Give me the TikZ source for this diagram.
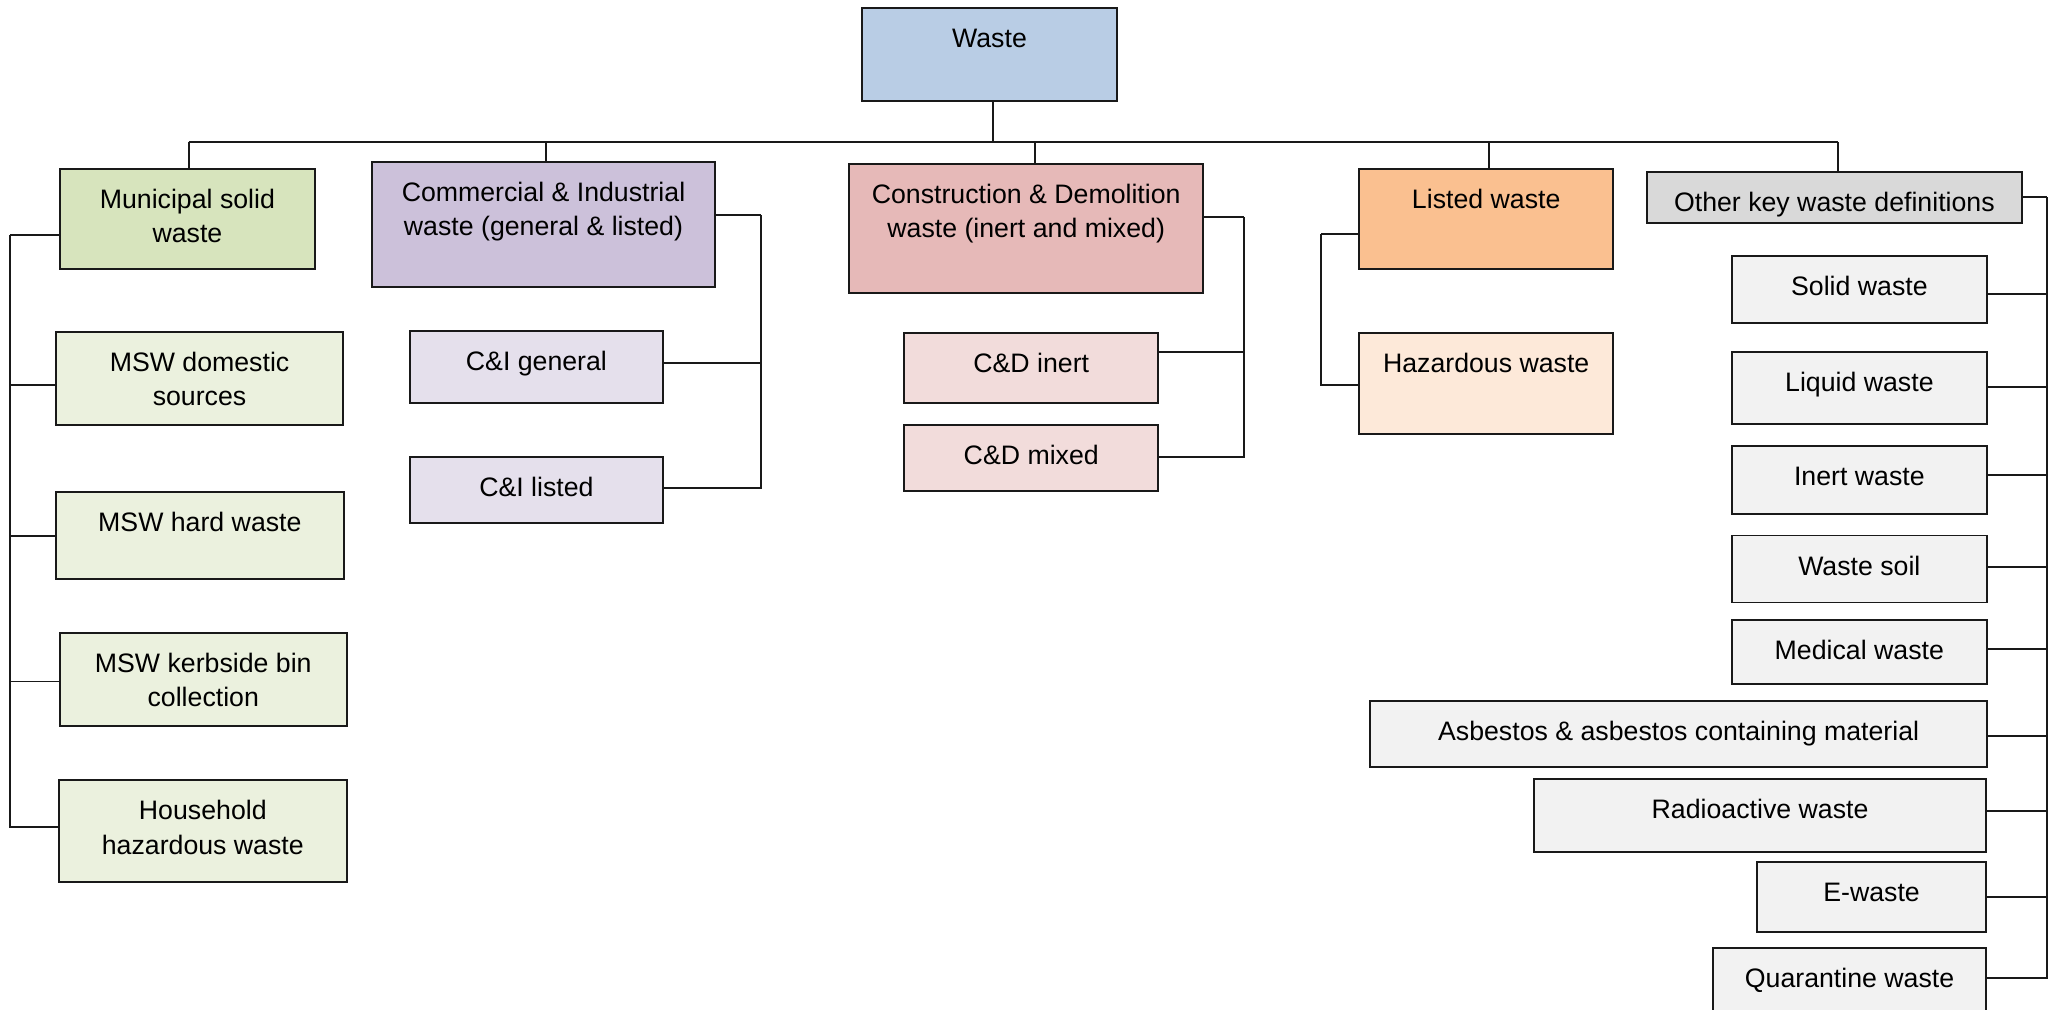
\documentclass[tikz,border=0pt]{standalone}
\usepackage{fontspec}
\setmainfont{Liberation Sans}
\usetikzlibrary{fit}

\definecolor{cWaste}{HTML}{B9CDE5}
\definecolor{cMsw}{HTML}{D7E4BD}
\definecolor{cCI}{HTML}{CCC1DA}
\definecolor{cCD}{HTML}{E6B9B8}
\definecolor{cListed}{HTML}{FAC090}
\definecolor{cOther}{HTML}{D9D9D9}
\definecolor{cMswL}{HTML}{EBF1DE}
\definecolor{cCIL}{HTML}{E5E0EC}
\definecolor{cCDL}{HTML}{F2DCDB}
\definecolor{cHaz}{HTML}{FDE9D9}
\definecolor{cOtherL}{HTML}{F2F2F2}

% box with its label set near the top edge; the optional argument
% moves the label down a little (used for two-line labels)
\newcommand\tbox[6][0pt]{%
  \node[box=#3, fit={(#4) (#5)}] (#2) {};
  \node[lbl] (#2-t) at ([yshift=-4.3pt-#1]#2.north) {#6};
}

\begin{document}
\begin{tikzpicture}[x=0.013106cm, y=-0.013106cm,
  box/.style={draw=black!90, line width=0.55pt, inner sep=0pt, outer sep=0pt, fill=#1},
  lbl/.style={anchor=north, inner sep=0pt, align=center,
              font=\fontsize{7.6}{9.7}\selectfont, execute at begin node=\strut},
  conn/.style={draw=black!90, line width=0.55pt}]

\path[use as bounding box] (0,0) rectangle (1568,770.6);

% top level
\tbox{waste}{cWaste}{658,6}{852,77}{Waste}
\tbox[1.3pt]{msw}{cMsw}{46,129}{240,205.5}{Municipal solid\\waste}
\tbox[1.3pt]{ci}{cCI}{284,123.4}{545.4,218.7}{Commercial \& Industrial\\waste (general \& listed)}
\tbox[1.3pt]{cd}{cCD}{648,125}{918,223.4}{Construction \& Demolition\\waste (inert and mixed)}
\tbox{listed}{cListed}{1037,129}{1231,205.5}{Listed waste}
\tbox{other}{cOther}{1256.8,131}{1542.5,170}{Other key waste definitions}

% municipal solid waste
\tbox[1.3pt]{dom}{cMswL}{42.5,253}{262,324}{MSW domestic\\sources}
\tbox{hard}{cMswL}{42.4,375.5}{262.6,441.5}{MSW hard waste}
\tbox[1.3pt]{kerb}{cMswL}{45.5,483}{264.7,553.6}{MSW kerbside bin\\collection}
\tbox[1.3pt]{hhw}{cMswL}{44.8,595.3}{264.7,672.7}{Household\\hazardous waste}

% commercial & industrial
\tbox{cig}{cCIL}{312.6,252.3}{506,307.2}{C\&I general}
\tbox{cil}{cCIL}{312.6,348.7}{506,398.8}{C\&I listed}

% construction & demolition
\tbox{cdi}{cCDL}{690,254}{883.7,307.4}{C\&D inert}
\tbox{cdm}{cCDL}{690,324.3}{883.7,374.5}{C\&D mixed}

% listed
\tbox{haz}{cHaz}{1037,254.3}{1231,331}{Hazardous waste}

% other definitions
\tbox{solid}{cOtherL}{1321.5,195.3}{1516,246.6}{Solid waste}
\tbox{liquid}{cOtherL}{1321.5,268.4}{1516,323.5}{Liquid waste}
\tbox{inert}{cOtherL}{1321.4,340.5}{1516,392}{Inert waste}
\tbox{soil}{cOtherL}{1321.4,408.6}{1516,459.7}{Waste soil}
\tbox{medical}{cOtherL}{1321.4,472.9}{1516,521.9}{Medical waste}
\tbox{asb}{cOtherL}{1045.6,535.1}{1516,585.5}{Asbestos \& asbestos containing material}
\tbox{radio}{cOtherL}{1170.4,594.5}{1515.5,649.8}{Radioactive waste}
\tbox{ewaste}{cOtherL}{1340.5,657.7}{1515.5,711}{E-waste}
\tbox{quar}{cOtherL}{1307,723}{1515.5,772}{Quarantine waste}

% main bus
\coordinate (bus) at (757.4,108.6);
\coordinate (dMsw) at (144,108.6);
\coordinate (dCI) at (416.4,108.6);
\coordinate (dCD) at (790,108.6);
\coordinate (dListed) at (1136,108.6);
\coordinate (dOther) at (1402.6,108.6);
\draw[conn] (waste.south -| bus) -- (bus);
\draw[conn] (dMsw) -- (dOther);
\draw[conn] (dMsw) -- (dMsw |- msw.north);
\draw[conn] (dCI) -- (dCI |- ci.north);
\draw[conn] (dCD) -- (dCD |- cd.north);
\draw[conn] (dListed) -- (dListed |- listed.north);
\draw[conn] (dOther) -- (dOther |- other.north);

% municipal spine
\coordinate (spMsw) at (7.6,179);
\draw[conn] (msw.west |- spMsw) -- (spMsw);
\draw[conn] (dom.west |- 0,294) -| (spMsw);
\draw[conn] (hard.west |- 0,409) -| (spMsw);
\draw[conn] (kerb.west |- 0,520) -| (spMsw);
\draw[conn] (hhw.west |- 0,631.2) -| (spMsw);

% C&I spine
\coordinate (spCI) at (580.5,164);
\draw[conn] (ci.east |- spCI) -- (spCI);
\draw[conn] (cig.east |- 0,277) -| (spCI);
\draw[conn] (cil.east |- 0,372.6) -| (spCI);

% C&D spine
\coordinate (spCD) at (949.4,165.3);
\draw[conn] (cd.east |- spCD) -- (spCD);
\draw[conn] (cdi.east |- 0,268.7) -| (spCD);
\draw[conn] (cdm.east |- 0,348.8) -| (spCD);

% listed spine
\coordinate (spL) at (1008,178.6);
\draw[conn] (listed.west |- spL) -- (spL);
\draw[conn] (haz.west |- 0,294) -| (spL);

% other definitions spine
\coordinate (spO) at (1561.7,150.4);
\draw[conn] (other.east |- spO) -- (spO);
\draw[conn] (solid.east |- 0,224) -| (spO);
\draw[conn] (liquid.east |- 0,295.5) -| (spO);
\draw[conn] (inert.east |- 0,362.6) -| (spO);
\draw[conn] (soil.east |- 0,432.8) -| (spO);
\draw[conn] (medical.east |- 0,495) -| (spO);
\draw[conn] (asb.east |- 0,561.7) -| (spO);
\draw[conn] (radio.east |- 0,618.7) -| (spO);
\draw[conn] (ewaste.east |- 0,684.4) -| (spO);
\draw[conn] (quar.east |- 0,746.2) -| (spO);

\end{tikzpicture}
\end{document}
